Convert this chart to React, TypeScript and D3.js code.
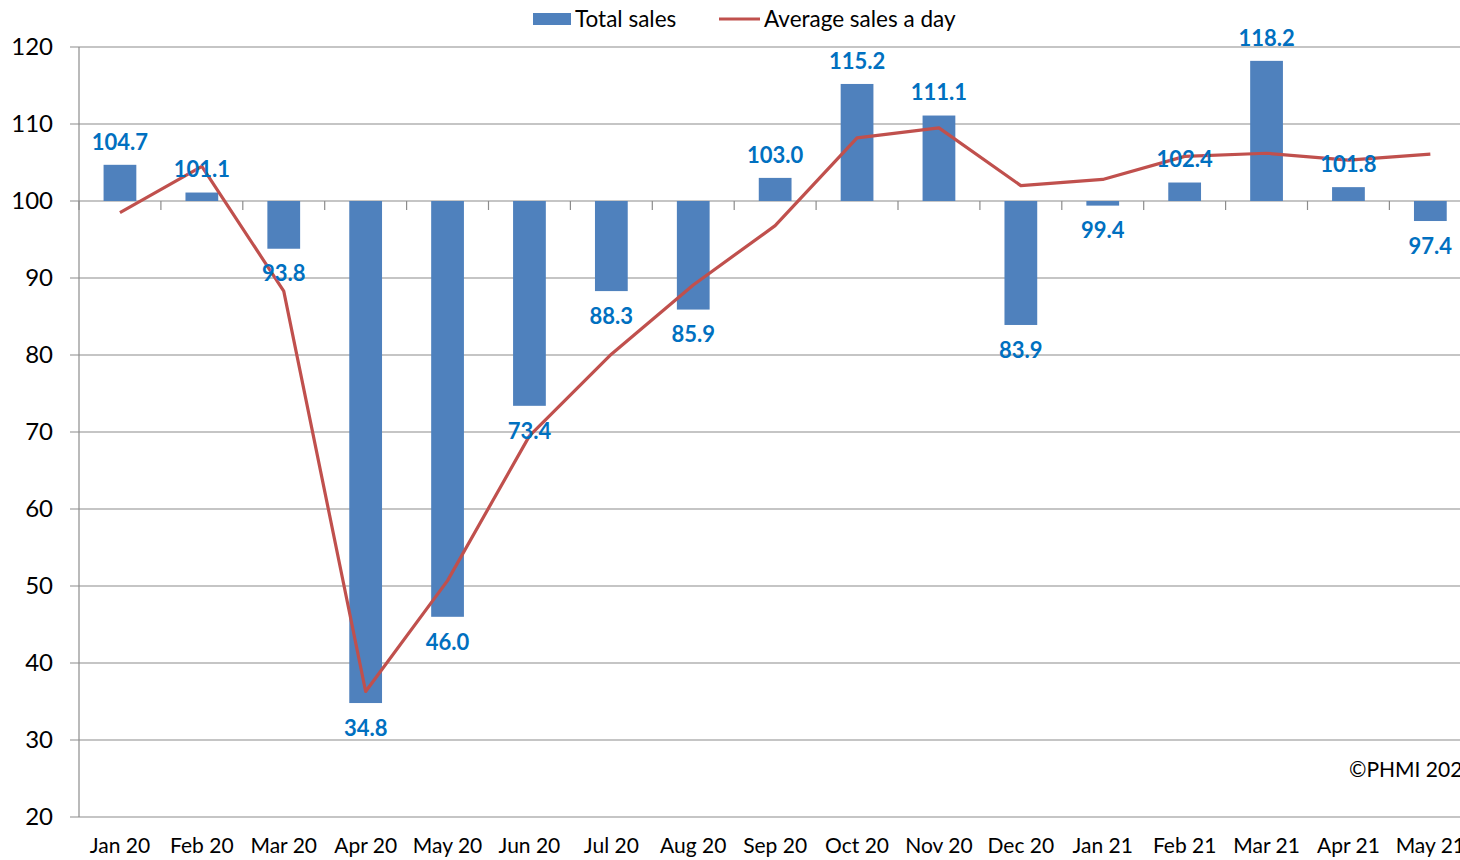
import React from "react";
import * as d3 from "d3";

const months = ["Jan 20","Feb 20","Mar 20","Apr 20","May 20","Jun 20","Jul 20","Aug 20","Sep 20","Oct 20","Nov 20","Dec 20","Jan 21","Feb 21","Mar 21","Apr 21","May 21"];
const totalSales = [104.7,101.1,93.8,34.8,46.0,73.4,88.3,85.9,103.0,115.2,111.1,83.9,99.4,102.4,118.2,101.8,97.4];
const avgPerDay = [98.5,104.5,88.3,36.3,50.7,69.5,80.1,89.1,96.8,108.2,109.5,102.0,102.8,105.8,106.2,105.3,106.1];
const yTicks = [20,30,40,50,60,70,80,90,100,110,120];
const seriesNames = ["Total sales","Average sales a day"];
const copyright = "©PHMI 2021";

const FONT = "Lato, 'Open Sans', sans-serif";
const BAR = "#4F81BD";
const LINE = "#C0504D";
const LABEL = "#0070C0";
const GRID = "#8C8C8C";

export default function App() {
  const W = 1460, H = 860;
  const left = 79, top = 47, bottom = 817;
  const step = 81.9;
  const right = left + months.length * step;
  const x = d3.scaleBand<string>().domain(months).range([left, right]).paddingInner(0.6).paddingOuter(0.3);
  const y = d3.scaleLinear().domain([20, 120]).range([bottom, top]);
  const base = y(100);
  const cx = (m: string) => (x(m) as number) + x.bandwidth() / 2;
  const line = d3.line<number>().x((_, i) => cx(months[i])).y((v) => y(v));

  return (
    <svg width={W} height={H} style={{ position: "absolute", left: 0, top: 0, background: "#fff" }} fontFamily={FONT}>
      <rect x={0} y={0} width={W} height={H} fill="#fff" />
      {yTicks.map((t) => (
        <g key={t}>
          <line x1={left - 9} x2={W} y1={y(t)} y2={y(t)} stroke={GRID} strokeWidth={1.2} />
          <text x={53} y={y(t)} dy="0.35em" textAnchor="end" fontSize={24} fill="#000">{t}</text>
        </g>
      ))}
      <line x1={left} x2={left} y1={top} y2={bottom} stroke={GRID} strokeWidth={1.2} />
      {d3.range(months.length + 1).map((i) => (
        <line key={i} x1={left + i * step} x2={left + i * step} y1={base} y2={base + 9} stroke={GRID} strokeWidth={1.2} />
      ))}
      {months.map((m, i) => {
        const v = totalSales[i];
        const y0 = Math.min(y(v), base);
        const h = Math.abs(y(v) - base);
        return <rect key={m} x={x(m)} y={y0} width={x.bandwidth()} height={h} fill={BAR} />;
      })}
      <path d={line(avgPerDay) || ""} fill="none" stroke={LINE} strokeWidth={3.2} strokeLinejoin="round" />
      {months.map((m, i) => {
        const v = totalSales[i];
        const ly = v >= 100 ? y(v) - 23 : y(v) + 25;
        return (
          <text key={m} x={cx(m)} y={ly} dy="0.35em" textAnchor="middle" fontSize={22} fontWeight="bold" fill={LABEL}>
            {v.toFixed(1)}
          </text>
        );
      })}
      {months.map((m) => (
        <text key={m} x={cx(m)} y={846} dy="0.35em" textAnchor="middle" fontSize={21} fill="#000">{m}</text>
      ))}
      <text x={1349} y={770} dy="0.35em" fontSize={21} fill="#000">{copyright}</text>
      <g>
        <rect x={533} y={13} width={38} height={12} fill={BAR} />
        <text x={575} y={19} dy="0.35em" fontSize={22.5} fill="#000">{seriesNames[0]}</text>
        <line x1={719} x2={760} y1={19} y2={19} stroke={LINE} strokeWidth={3.2} />
        <text x={764} y={19} dy="0.35em" fontSize={22.5} fill="#000">{seriesNames[1]}</text>
      </g>
    </svg>
  );
}
